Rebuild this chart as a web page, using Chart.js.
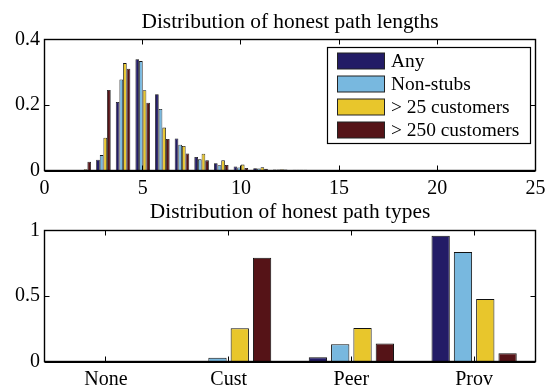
<!DOCTYPE html>
<html>
<head>
<meta charset="utf-8">
<script src="https://cdn.jsdelivr.net/npm/chart.js@4.4.0/dist/chart.umd.min.js"></script>
<style>
  html, body { margin: 0; padding: 0; background: #ffffff; }
  #wrap { position: relative; width: 555px; height: 387px; }
  .panel { position: absolute; left: 0; width: 555px; }
</style>
</head>
<body>
<div id="wrap">
  <div class="panel" style="top:0;height:195px"><canvas id="lengths"></canvas></div>
  <div class="panel" style="top:195px;height:192px"><canvas id="types"></canvas></div>
</div>
<script>
// Series shared by both panels
const seriesNames = ['Any', 'Non-stubs', '> 25 customers', '> 250 customers'];
const seriesColors = ['#231c66', '#78b8df', '#e8c62c', '#551317'];

// Path length histogram (fraction of paths per length)
const pathLengths = [2, 3, 4, 5, 6, 7, 8, 9, 10, 11, 12, 13, 14];
const lenAny      = [0.001, 0.033, 0.209, 0.340, 0.233, 0.098, 0.041, 0.022, 0.012, 0.007, 0.003, 0.002, 0.001];
const lenNonStubs = [0.001, 0.047, 0.278, 0.334, 0.188, 0.079, 0.034, 0.016, 0.009, 0.006, 0.003, 0.002, 0.001];
const lenOver25   = [0.004, 0.100, 0.328, 0.245, 0.131, 0.075, 0.051, 0.031, 0.018, 0.010, 0.004, 0.002, 0.001];
const lenOver250  = [0.027, 0.246, 0.311, 0.207, 0.096, 0.052, 0.031, 0.017, 0.008, 0.005, 0.003, 0.002, 0.001];
const lengthTicks = [0, 5, 10, 15, 20, 25];
const lengthFracTicks = [0, 0.2, 0.4];

// Path type distribution
const pathTypes    = ['None', 'Cust', 'Peer', 'Prov'];
const typeAny      = [0.001, 0.001, 0.033, 0.959];
const typeNonStubs = [0.001, 0.028, 0.132, 0.835];
const typeOver25   = [0.004, 0.253, 0.256, 0.478];
const typeOver250  = [0.001, 0.792, 0.137, 0.063];
const typeFracTicks = [0, 0.5, 1];

const SERIF = '"Liberation Serif", "Times New Roman", serif';

// Closed axes box with short inward tick marks on all four sides
const frameAndTicks = {
  id: 'frameAndTicks',
  afterDatasetsDraw(chart) {
    const { ctx, chartArea: a, scales } = chart;
    const L = 5;
    const snap = v => Math.round(v - 0.5) + 0.5;
    ctx.save();
    ctx.strokeStyle = '#000';
    ctx.lineWidth = 1;
    ctx.beginPath();
    scales.x.ticks.forEach((t, i) => {
      const px = snap(scales.x.getPixelForTick(i));
      if (px <= a.left + 1 || px >= a.right - 1) return;
      ctx.moveTo(px, a.bottom); ctx.lineTo(px, a.bottom - L);
      ctx.moveTo(px, a.top);    ctx.lineTo(px, a.top + L);
    });
    scales.y.ticks.forEach((t, i) => {
      const py = snap(scales.y.getPixelForTick(i));
      if (py <= a.top + 1 || py >= a.bottom - 1) return;
      ctx.moveTo(a.left, py);  ctx.lineTo(a.left + L, py);
      ctx.moveTo(a.right, py); ctx.lineTo(a.right - L, py);
    });
    ctx.stroke();
    ctx.lineWidth = 1.4;
    ctx.strokeRect(a.left, a.top, a.right - a.left, a.bottom - a.top);
    // heavier baseline along the bottom edge
    ctx.lineWidth = 2;
    ctx.beginPath();
    ctx.moveTo(a.left, a.bottom + 0.5);
    ctx.lineTo(a.right, a.bottom + 0.5);
    ctx.stroke();
    ctx.restore();
  }
};

// Axes title centred over the plotting area
const axesTitle = {
  id: 'axesTitle',
  afterDraw(chart, args, opts) {
    const { ctx, chartArea: a } = chart;
    ctx.save();
    ctx.font = opts.fontSize + 'px ' + SERIF;
    ctx.fillStyle = '#000';
    ctx.textAlign = 'center';
    ctx.textBaseline = 'alphabetic';
    ctx.fillText(opts.text, (a.left + a.right) / 2, opts.baseline);
    ctx.restore();
  }
};

// Boxed legend inside the upper axes
const boxedLegend = {
  id: 'boxedLegend',
  afterDraw(chart, args, opts) {
    if (!opts.show) return;
    const { ctx } = chart;
    ctx.save();
    ctx.fillStyle = '#fff';
    ctx.strokeStyle = '#000';
    ctx.lineWidth = 1.2;
    ctx.fillRect(opts.x, opts.y, opts.w, opts.h);
    ctx.strokeRect(opts.x, opts.y, opts.w, opts.h);
    ctx.font = opts.fontSize + 'px ' + SERIF;
    ctx.textBaseline = 'middle';
    ctx.textAlign = 'left';
    chart.data.datasets.forEach((ds, i) => {
      const top = opts.y + opts.firstRow + i * opts.rowGap;
      ctx.fillStyle = ds.backgroundColor;
      ctx.fillRect(opts.x + opts.swatchX, top, opts.swatchW, opts.swatchH);
      ctx.strokeStyle = '#222';
      ctx.lineWidth = 1;
      ctx.strokeRect(opts.x + opts.swatchX, top, opts.swatchW, opts.swatchH);
      ctx.fillStyle = '#000';
      ctx.fillText(ds.label, opts.x + opts.textX, top + opts.swatchH / 2 + 1);
    });
    ctx.restore();
  }
};

function tickSetter(values) {
  return scale => { scale.ticks = values.map(v => ({ value: v })); };
}
const plainNumber = v => String(v);

// Upper panel: histogram of path lengths
const lenSeries = [lenAny, lenNonStubs, lenOver25, lenOver250];
new Chart(document.getElementById('lengths'), {
  type: 'bar',
  data: {
    datasets: lenSeries.map((vals, i) => ({
      label: seriesNames[i],
      data: pathLengths.map((len, j) => ({ x: len, y: vals[j] })),
      backgroundColor: seriesColors[i],
      borderColor: '#111',
      borderWidth: 0.8,
      categoryPercentage: 0.74,
      barPercentage: 1.0
    }))
  },
  options: {
    responsive: true,
    maintainAspectRatio: false,
    animation: false,
    layout: { padding: { left: 0, right: 19.5, top: 39.5, bottom: 0 } },
    plugins: {
      legend: { display: false },
      title: { display: false },
      tooltip: { enabled: false },
      axesTitle: { text: 'Distribution of honest path lengths', fontSize: 21.4, baseline: 28 },
      boxedLegend: {
        show: true, x: 327.5, y: 47.5, w: 203, h: 96,
        firstRow: 5.5, rowGap: 23, swatchX: 10, swatchW: 47, swatchH: 16,
        textX: 63.5, fontSize: 19.4
      }
    },
    scales: {
      x: {
        type: 'linear',
        offset: false,
        min: 0, max: 25,
        afterBuildTicks: tickSetter(lengthTicks),
        afterFit: s => { s.height = 24.5; },
        grid: { display: false, drawTicks: false },
        border: { display: false },
        ticks: { color: '#000', font: { family: SERIF, size: 20 }, padding: 6, maxRotation: 0, callback: plainNumber }
      },
      y: {
        min: 0, max: 0.4,
        afterBuildTicks: tickSetter(lengthFracTicks),
        afterFit: s => { s.width = 44.5; },
        grid: { display: false, drawTicks: false },
        border: { display: false },
        ticks: { color: '#000', font: { family: SERIF, size: 20 }, padding: 4.5, callback: plainNumber }
      }
    }
  },
  plugins: [frameAndTicks, axesTitle, boxedLegend]
});

// Lower panel: path types
const typeSeries = [typeAny, typeNonStubs, typeOver25, typeOver250];
new Chart(document.getElementById('types'), {
  type: 'bar',
  data: {
    labels: pathTypes,
    datasets: typeSeries.map((vals, i) => ({
      label: seriesNames[i],
      data: vals,
      backgroundColor: seriesColors[i],
      borderColor: '#111',
      borderWidth: 1,
      categoryPercentage: 0.727,
      barPercentage: 0.82
    }))
  },
  options: {
    responsive: true,
    maintainAspectRatio: false,
    animation: false,
    layout: { padding: { left: 0, right: 19.5, top: 35.5, bottom: 0 } },
    plugins: {
      legend: { display: false },
      title: { display: false },
      tooltip: { enabled: false },
      axesTitle: { text: 'Distribution of honest path types', fontSize: 21.4, baseline: 23 },
      boxedLegend: { show: false }
    },
    scales: {
      x: {
        afterFit: s => { s.height = 25.5; },
        grid: { display: false, drawTicks: false },
        border: { display: false },
        ticks: { color: '#000', font: { family: SERIF, size: 20 }, padding: 6, maxRotation: 0 }
      },
      y: {
        min: 0, max: 1,
        afterBuildTicks: tickSetter(typeFracTicks),
        afterFit: s => { s.width = 44.5; },
        grid: { display: false, drawTicks: false },
        border: { display: false },
        ticks: { color: '#000', font: { family: SERIF, size: 20 }, padding: 4.5, callback: plainNumber }
      }
    }
  },
  plugins: [frameAndTicks, axesTitle, boxedLegend]
});
</script>
</body>
</html>
